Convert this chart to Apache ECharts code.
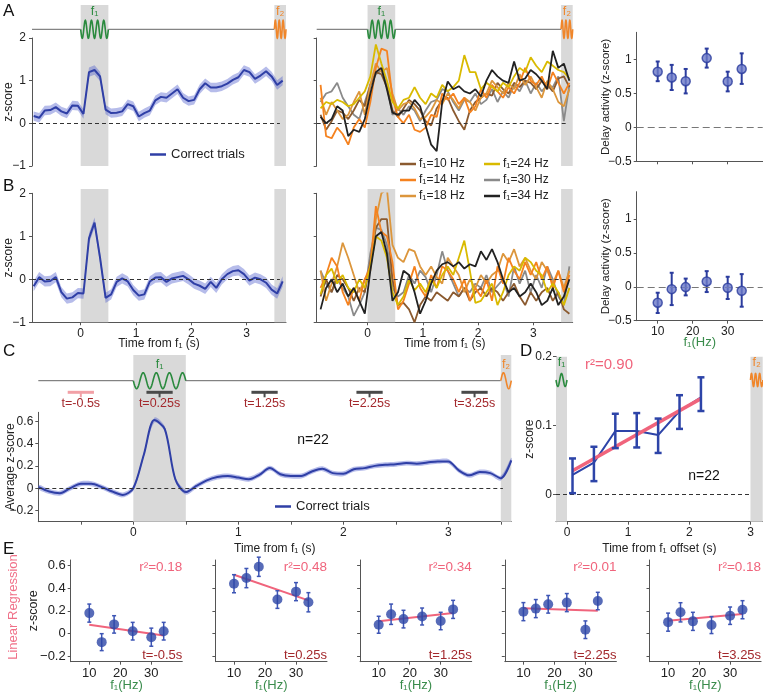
<!DOCTYPE html>
<html><head><meta charset="utf-8">
<script src="https://cdn.jsdelivr.net/npm/echarts@6/dist/echarts.min.js"></script>
<style>html,body{margin:0;padding:0;background:#fff}#c{width:763px;height:696px}</style>
</head><body><div id="c"></div>
<script>
// ---------------- DATA ----------------
const T = [-0.85,-0.75,-0.65,-0.55,-0.45,-0.35,-0.25,-0.15,-0.05,0.05,0.15,0.25,0.35,0.45,0.55,0.65,0.75,0.85,0.95,1.05,1.15,1.25,1.35,1.45,1.55,1.65,1.75,1.85,1.95,2.05,2.15,2.25,2.35,2.45,2.55,2.65,2.75,2.85,2.95,3.05,3.15,3.25,3.35,3.45,3.55,3.65];
const A_MEAN = [0.17,0.13,0.30,0.31,0.38,0.28,0.23,0.42,0.41,0.22,1.20,1.25,1.10,0.32,0.24,0.25,0.28,0.45,0.40,0.16,0.24,0.30,0.54,0.62,0.60,0.70,0.80,0.60,0.52,0.55,0.80,0.94,0.84,0.84,0.87,0.93,1.02,1.08,1.25,1.20,1.04,1.12,1.22,1.10,0.90,1.00];
const A_SEM = 0.11;
const B_MEAN = [-0.16,0.05,-0.05,-0.04,0.05,-0.30,-0.45,-0.42,-0.32,-0.33,0.95,1.32,0.50,-0.43,-0.35,-0.06,0.02,-0.05,-0.25,-0.38,-0.35,-0.05,0.04,0.05,-0.06,0.02,0.05,0.08,0.00,-0.10,-0.15,-0.22,-0.06,-0.20,0.00,0.12,0.19,0.21,0.12,-0.03,0.04,0.00,-0.08,-0.24,-0.33,-0.05];
const B_SEM = 0.12;
const A_F10 = [0.2,-0.15,0.05,0.3,0.25,0.1,0.3,0.55,0.4,0.9,1.2,1.15,0.85,0.3,0.15,0.35,0.55,0.45,0.3,0.05,-0.05,0.35,0.55,0.6,0.3,0.05,-0.15,0.3,0.5,0.6,0.7,0.65,0.95,0.8,0.7,0.95,0.85,1.0,0.95,0.8,1.0,0.9,0.75,1.05,1.1,0.85];
const A_F14 = [0.9,-0.3,-0.35,-0.1,-0.25,-0.5,-0.1,0.1,-0.1,0.5,1.3,1.75,1.7,0.6,0.15,0.0,0.2,-0.15,-0.2,-0.1,0.2,0.15,0.7,0.55,0.7,0.45,0.6,0.25,0.4,0.8,0.6,0.9,0.75,0.6,0.85,0.7,0.95,1.3,1.0,0.9,1.1,0.8,1.2,0.95,0.7,0.95];
const A_F18 = [0.6,0.2,0.5,0.3,0.1,0.2,0.5,0.75,0.2,0.9,1.4,1.2,1.3,0.7,0.3,0.45,0.5,0.35,0.1,0.15,0.3,0.55,0.45,0.7,0.55,0.35,0.6,0.5,0.3,0.6,0.7,1.0,0.85,0.7,0.95,0.8,1.15,0.9,1.1,0.85,0.6,1.0,0.8,0.5,0.4,0.8];
const A_F24 = [0.35,0.5,0.45,0.55,0.5,0.4,0.45,0.6,0.75,1.1,1.85,1.4,1.0,0.5,0.35,0.55,0.6,0.85,0.6,0.45,0.7,0.6,0.9,0.75,0.85,1.0,1.6,1.2,1.2,0.8,0.95,0.85,0.75,0.95,0.85,1.1,1.3,1.2,1.55,1.35,1.2,1.45,1.35,1.25,1.2,1.05];
const A_F30 = [0.5,0.7,0.75,0.95,0.6,0.4,0.2,0.1,0.5,0.9,1.15,1.25,0.9,0.2,0.35,0.2,0.4,0.3,0.05,0.3,0.5,0.55,0.8,0.75,0.5,0.3,0.55,0.5,0.7,0.45,0.55,0.8,0.5,0.75,0.6,0.9,0.75,1.0,0.7,0.95,0.75,0.9,0.85,1.1,0.05,0.9];
const A_F34 = [0.15,0.0,0.1,0.4,0.3,-0.3,-0.15,-0.2,0.1,0.7,1.2,1.3,0.8,0.25,0.2,0.3,0.3,0.55,0.4,-0.05,-0.5,-0.65,0.5,0.98,0.8,0.87,0.75,0.7,0.8,0.63,1.0,1.25,1.1,1.0,0.95,1.45,1.0,1.05,1.25,1.15,1.0,0.8,1.7,1.3,1.4,1.0];
const B_F10 = [-0.4,0.0,-0.3,0.1,0.0,-0.2,-0.5,-0.2,-0.3,0.4,1.2,1.4,1.4,0.0,-0.6,-0.55,-0.7,-1.0,-0.6,-0.4,-0.5,-0.3,-0.4,-0.5,-0.3,-0.4,-0.2,-0.5,-0.3,-0.2,-0.4,-0.2,-0.3,-0.5,-0.3,-0.1,-0.4,-0.6,-0.3,-0.5,-0.3,-0.2,-0.5,-0.3,-0.7,-0.8];
const B_F14 = [-0.2,0.1,0.5,0.3,-0.3,-0.6,-0.2,-0.5,0.0,0.3,1.7,1.1,1.0,0.4,-0.7,-0.5,-0.1,0.3,-0.2,-0.4,0.1,-0.2,0.3,0.2,0.0,-0.3,0.0,-0.5,-0.2,-0.4,0.0,-0.5,0.3,-0.1,0.5,0.2,0.0,0.4,0.1,0.4,0.0,0.3,-0.2,0.2,-0.3,0.1];
const B_F18 = [0.2,-0.5,-0.1,0.3,0.85,0.5,0.1,-0.3,0.0,0.2,1.4,2.0,2.1,0.8,0.5,0.4,0.7,0.65,0.3,0.1,0.3,0.05,-0.1,0.5,0.3,0.1,-0.3,0.0,-0.2,0.1,-0.1,0.1,0.2,0.6,0.4,0.7,0.3,0.5,0.2,0.0,0.4,0.2,-0.1,0.2,-0.2,0.2];
const B_F24 = [-0.35,0.1,0.25,-0.1,0.1,-0.2,-0.3,0.0,-0.2,0.3,1.0,0.9,0.5,-0.3,-0.6,-0.4,0.0,-0.25,-0.1,-0.3,0.0,-0.2,0.1,0.3,0.1,0.5,0.9,0.2,-0.55,-0.5,-0.3,-0.1,-0.6,-0.3,0.1,0.3,0.2,0.5,0.4,0.2,0.1,-0.3,-0.1,-0.3,-0.6,-0.2];
const B_F30 = [0.2,-0.1,-0.3,0.0,-0.2,-0.4,-0.85,-0.6,-0.3,0.6,1.2,1.15,0.8,-0.2,-0.4,-0.3,0.1,-0.1,0.2,0.05,-0.3,0.1,0.65,0.2,-0.1,-0.4,-0.2,-0.3,-0.1,-0.2,0.1,-0.3,-0.15,0.0,-0.4,0.3,-0.1,0.2,-0.3,0.1,-0.2,0.3,0.0,-0.4,-0.6,0.3];
const B_F34 = [-0.7,-0.2,0.0,-0.3,-0.1,-0.4,-0.2,-0.5,-0.8,0.2,1.0,1.1,0.6,-0.5,-0.3,0.2,0.1,-0.3,-0.8,-0.5,-0.1,0.2,0.35,0.4,0.3,0.4,0.25,0.35,0.3,0.65,0.45,0.7,0.4,0.0,-0.3,-0.2,-0.4,-0.3,-0.1,-0.3,-0.6,-0.5,-0.2,-0.6,-0.4,0.0];
const FREQ_NAMES = ['f₁=10 Hz','f₁=14 Hz','f₁=18 Hz','f₁=24 Hz','f₁=30 Hz','f₁=34 Hz'];
const FREQS = [10,14,18,24,30,34];
const A_DELAY = [0.82,0.735,0.68,1.02,0.675,0.86];
const A_DELAY_LO = [0.68,0.55,0.50,0.88,0.53,0.64];
const A_DELAY_HI = [0.97,0.92,0.86,1.16,0.82,1.09];
const B_DELAY = [-0.235,-0.035,-0.005,0.078,-0.015,-0.06];
const B_DELAY_LO = [-0.387,-0.27,-0.127,-0.078,-0.18,-0.294];
const B_DELAY_HI = [-0.088,0.206,0.12,0.23,0.147,0.186];
const TC = [-0.9,-0.8,-0.7,-0.6,-0.5,-0.4,-0.3,-0.2,-0.1,0.0,0.1,0.2,0.3,0.4,0.5,0.6,0.7,0.8,0.9,1.0,1.1,1.2,1.3,1.4,1.5,1.6,1.7,1.8,1.9,2.0,2.1,2.2,2.3,2.4,2.5,2.6,2.7,2.8,2.9,3.0,3.1,3.2,3.3,3.4,3.5,3.6];
const C_MEAN = [0.01,-0.03,-0.045,0.0,0.04,0.04,0.01,-0.03,-0.06,0.0,0.30,0.61,0.53,0.08,-0.035,0.02,0.07,0.10,0.11,0.095,0.08,0.12,0.18,0.125,0.11,0.11,0.15,0.175,0.135,0.13,0.17,0.18,0.20,0.21,0.215,0.225,0.22,0.23,0.24,0.24,0.16,0.115,0.145,0.135,0.09,0.25];
const C_SEM = 0.022;
const WIN_T = [-0.5,0.25,1.25,2.25,3.25];
const WIN_LABELS = ['t=-0.5s','t=0.25s','t=1.25s','t=2.25s','t=3.25s'];
const WIN_W = 0.25;
const F1 = [0,0.5], F2 = [3.5,3.72];
const D_T = [0.09,0.44,0.79,1.14,1.49,1.84,2.19];
const D_Z = [0.028,0.046,0.092,0.092,0.086,0.121,0.141];
const D_LO = [0.0015,0.019,0.067,0.068,0.060,0.095,0.121];
const D_HI = [0.052,0.069,0.117,0.118,0.110,0.144,0.170];
const D_FIT_X = [0.09,2.19], D_FIT_Y = [0.034,0.139];
const D_BANDS = [[-0.3,0],[3,3.3]];
const E_Z = [
  [0.18,-0.077,0.08,0.02,-0.033,0.02],
  [0.44,0.49,0.59,0.30,0.37,0.276],
  [0.077,0.17,0.127,0.15,0.11,0.213],
  [0.193,0.22,0.258,0.273,0.033,0.287],
  [0.10,0.187,0.107,0.074,0.157,0.21]];
const E_ERR = [
  [0.08,0.075,0.077,0.078,0.08,0.078],
  [0.08,0.085,0.085,0.078,0.08,0.085],
  [0.075,0.09,0.078,0.075,0.077,0.08],
  [0.08,0.08,0.078,0.08,0.078,0.077],
  [0.08,0.085,0.08,0.075,0.077,0.08]];
const E_FIT_X = [10,34];
const E_FIT_Y = [[0.077,-0.018],[0.52,0.293],[0.107,0.18],[0.222,0.2],[0.113,0.172]];
const E_R2 = ['0.18','0.48','0.34','0.01','0.18'];

// ---------------- STYLE ----------------
const FONT = "'Liberation Sans', Arial, Helvetica, sans-serif";
const GREEN = '#2a8a3e', GREEN2 = '#3a8c4c', ORANGE = '#f0862a', PINK = '#f0647c', DARKRED = '#a3282c';
const BLUE = '#2f3fa6', BAND = 'rgba(80,95,205,0.42)';
const FCOL = ['#8b5a2f','#f5821f','#dc963c','#d9ba00','#8a8a8a','#222222'];

const grids=[],xAxes=[],yAxes=[],series=[],titles=[];
const zip=(a,b)=>a.map((x,i)=>[x,b[i]]);
function fmt(v){return String(+(+v).toFixed(3)).replace('-','−');}
function axis(min,max,o){o=o||{};
  const a={type:'value',min:min,max:max,show:o.show!==false,splitLine:{show:false},nameMoveOverlap:false,
    axisLine:{show:o.line!==false,onZero:false,lineStyle:{color:'#555',width:1}},
    axisTick:{show:!!o.ticks,length:3,lineStyle:{color:'#555',width:1},customValues:o.ticks},
    axisLabel:{show:!!o.labels,customValues:o.labels,color:'#222',fontSize:o.fs||12,fontFamily:FONT,margin:o.margin==null?4:o.margin,formatter:fmt}};
  if(o.name){a.name=o.name;a.nameLocation='middle';a.nameGap=o.gap;if(o.rot)a.nameRotate=o.rot;
    a.nameTextStyle={fontSize:o.nfs||12,color:o.ncolor||'#222',fontFamily:FONT};}
  return a;}
function addGrid(l,t,w,h,xa,ya){grids.push({left:l,top:t,width:w,height:h,containLabel:false,outerBoundsMode:'none'});const g=grids.length-1;
  xa.gridIndex=g;ya.gridIndex=g;xAxes.push(xa);yAxes.push(ya);return g;}
function hidden(min,max){return {type:'value',min:min,max:max,show:false};}

function stimOverlay(l,t,w,h,xmin,xmax,events,cfg){
  const g=addGrid(l,t,w,h,hidden(xmin,xmax),hidden(0,1));
  series.push({type:'custom',xAxisIndex:g,yAxisIndex:g,z:1,silent:true,clip:false,encode:{x:[0,1]},data:events,
    renderItem:function(p,api){
      const cs=p.coordSys, s=api.value(0), e=api.value(1), k=api.value(2);
      const x0=Math.max(api.coord([s,0])[0],cs.x), x1=Math.min(api.coord([e,0])[0],cs.x+cs.width);
      const ch=[{type:'rect',shape:{x:x0,y:cs.y,width:x1-x0,height:cs.height},style:{fill:'#d9d9d9'}}];
      if(cfg.trace){
        const yc=cs.y+cfg.traceY, col=k===0?GREEN:ORANGE, cyc=k===0?cfg.c1:cfg.c2, pts=[], N=120;
        for(let i=0;i<=N;i++)pts.push([x0+(x1-x0)*i/N, yc+cfg.amp*Math.sin(2*Math.PI*cyc*i/N)*(k===0?1:-1)]);
        ch.push({type:'polyline',shape:{points:pts},style:{stroke:col,lineWidth:1.6,fill:null}});
        ch.push({type:'text',x:(x0+x1)/2,y:cs.y+cfg.labelY,style:{text:k===0?'f₁':'f₂',fill:col,fontSize:12.5,fontFamily:FONT,align:'center',verticalAlign:'middle'}});
        if(cfg.line&&k===0){
          const xf2=api.coord([F2[0],0])[0];
          ch.push({type:'line',shape:{x1:cs.x,y1:yc,x2:x0,y2:yc},style:{stroke:'#666',lineWidth:1}});
          ch.push({type:'line',shape:{x1:x1,y1:yc,x2:xf2,y2:yc},style:{stroke:'#666',lineWidth:1}});
        }
      }
      return {type:'group',children:ch};
    }});
  return g;
}
function bandSeries(g,ts,m,sem,smooth){
  return {type:'custom',xAxisIndex:g,yAxisIndex:g,z:2,silent:true,clip:true,encode:{x:0,y:1},data:zip(ts,m),
    renderItem:function(p,api){ if(p.dataIndex!==0) return;
      const up=[],dn=[]; ts.forEach((t,i)=>{up.push(api.coord([t,m[i]+sem]));dn.push(api.coord([t,m[i]-sem]));});
      return {type:'polygon',shape:{points:up.concat(dn.reverse()),smooth:smooth||0},style:{fill:BAND}}; }};
}
function errBars(g,xs,lo,hi,cfg){
  return {type:'custom',xAxisIndex:g,yAxisIndex:g,z:cfg.z||4,silent:true,encode:{x:0,y:[1,2]},data:xs.map((x,i)=>[x,lo[i],hi[i]]),
    renderItem:function(p,api){const a=api.coord([api.value(0),api.value(1)]),b=api.coord([api.value(0),api.value(2)]),w=cfg.cap/2;
      const st={stroke:cfg.color,lineWidth:cfg.lw};
      return {type:'group',children:[
        {type:'line',shape:{x1:a[0],y1:a[1],x2:b[0],y2:b[1]},style:st},
        {type:'line',shape:{x1:a[0]-w,y1:a[1],x2:a[0]+w,y2:a[1]},style:st},
        {type:'line',shape:{x1:b[0]-w,y1:b[1],x2:b[0]+w,y2:b[1]},style:st}]};}};
}
function dash(x0,x1){return {silent:true,symbol:'none',label:{show:false},lineStyle:{type:[4,3],color:'#333',width:1},data:[[{coord:[x0,0]},{coord:[x1,0]}]]};}
function longDash(){return {silent:true,symbol:'none',label:{show:false},lineStyle:{type:[7,4],color:'#777',width:1.2},data:[{yAxis:0}]};}

// ---------------- PANEL A / B : left ----------------
const STIM=[[F1[0],F1[1],0],[F2[0],F2[1],1]];
const stimA={trace:true,traceY:24.3,amp:9,c1:4.5,c2:3,labelY:7,line:true};
stimOverlay(32,5,254,161,-0.88,3.71,STIM,stimA);
const gA=addGrid(32,38,254,128,axis(-0.88,3.71,{line:false}),
  axis(-1,2,{ticks:[-1,0,1,2],labels:[-1,0,1,2],margin:6,name:'z-score',gap:17,rot:90}));
series.push(bandSeries(gA,T,A_MEAN,A_SEM));
series.push({type:'line',name:'Correct trials',xAxisIndex:gA,yAxisIndex:gA,data:zip(T,A_MEAN),showSymbol:false,
  lineStyle:{color:BLUE,width:2},itemStyle:{color:BLUE},z:3,markLine:dash(-0.88,3.6)});

stimOverlay(32,189,254,133.3,-0.88,3.71,STIM,{trace:false});
const gB=addGrid(32,193.3,254,129,axis(-0.88,3.71,{ticks:[0,1,2,3],labels:[0,1,2,3],margin:5,name:'Time from f₁ (s)',gap:15}),
  axis(-1,2,{ticks:[-1,0,1,2],labels:[-1,0,1,2],margin:6,name:'z-score',gap:17,rot:90}));
series.push(bandSeries(gB,T,B_MEAN,B_SEM));
series.push({type:'line',name:'Correct (B)',xAxisIndex:gB,yAxisIndex:gB,data:zip(T,B_MEAN),showSymbol:false,
  lineStyle:{color:BLUE,width:2},itemStyle:{color:BLUE},z:3,markLine:dash(-0.88,3.6)});

// ---------------- PANEL A / B : middle ----------------
stimOverlay(316.7,5,256,161,-0.92,3.71,STIM,stimA);
const gAm=addGrid(316.7,38,256,128,axis(-0.92,3.71,{line:false}),axis(-1,2,{ticks:[-1,0,1,2]}));
stimOverlay(316.7,189,256,133.3,-0.92,3.71,STIM,{trace:false});
const gBm=addGrid(316.7,193.3,256,129,axis(-0.92,3.71,{ticks:[0,1,2,3],labels:[0,1,2,3],margin:5,name:'Time from f₁ (s)',gap:15}),
  axis(-1,2,{ticks:[-1,0,1,2]}));
const AM=[A_F10,A_F14,A_F18,A_F24,A_F30,A_F34], BM=[B_F10,B_F14,B_F18,B_F24,B_F30,B_F34];
const ORDER=[4,0,2,1,3,5];
[[gAm,AM],[gBm,BM]].forEach(([g,arr])=>{
  ORDER.forEach((k,j)=>{
    const s={type:'line',name:FREQ_NAMES[k],xAxisIndex:g,yAxisIndex:g,data:zip(T,arr[k]),showSymbol:false,
      lineStyle:{color:FCOL[k],width:1.8},itemStyle:{color:FCOL[k]},z:3};
    if(j===0)s.markLine=dash(-0.92,3.6);
    series.push(s);
  });
});

// ---------------- PANEL A / B : right ----------------
const gAr=addGrid(636.7,32.3,126,129,axis(4,40,{ticks:[10,20,30]}),
  axis(-0.5,1.4,{ticks:[-0.5,0,0.5,1],labels:[-0.5,0,0.5,1],margin:5,name:'Delay activity (z-score)',gap:25,rot:90,nfs:11.5}));
const gBr=addGrid(636.7,191.7,126,129,axis(4,40,{ticks:[10,20,30],labels:[10,20,30],margin:5,name:'f₁(Hz)',gap:15,ncolor:GREEN2,nfs:13}),
  axis(-0.5,1.4,{ticks:[-0.5,0,0.5,1],labels:[-0.5,0,0.5,1],margin:5,name:'Delay activity (z-score)',gap:25,rot:90,nfs:11.5}));
[[gAr,A_DELAY,A_DELAY_LO,A_DELAY_HI],[gBr,B_DELAY,B_DELAY_LO,B_DELAY_HI]].forEach(([g,m,lo,hi])=>{
  series.push(errBars(g,FREQS,lo,hi,{color:'#2b3c9e',lw:2,cap:4}));
  series.push({type:'scatter',xAxisIndex:g,yAxisIndex:g,data:zip(FREQS,m),symbolSize:9,z:5,
    itemStyle:{color:'#6b79c8',borderColor:'#2b3c9e',borderWidth:1.5},markLine:longDash()});
});

// ---------------- PANEL C ----------------
const gCo=stimOverlay(38.3,355,473,166.7,-0.905,3.6,STIM,{trace:true,traceY:25.7,amp:8,c1:4,c2:1,labelY:10,line:true});
series.push({type:'custom',xAxisIndex:gCo,yAxisIndex:gCo,z:2,silent:true,clip:false,encode:{x:0},data:WIN_T.map((t,i)=>[t,i]),
  renderItem:function(p,api){const t=api.value(0),cs=p.coordSys;
    const xa=api.coord([t-WIN_W/2,0])[0],xb=api.coord([t+WIN_W/2,0])[0],xc=api.coord([t,0])[0],y=cs.y+37.3;
    const col=p.dataIndex===0?'#f2a0a6':'#4a4a4a';
    return {type:'group',children:[
      {type:'line',shape:{x1:xa,y1:y,x2:xb,y2:y},style:{stroke:col,lineWidth:3}},
      {type:'line',shape:{x1:xc,y1:y,x2:xc,y2:y+5},style:{stroke:col,lineWidth:2}},
      {type:'text',x:xc,y:y+11,style:{text:WIN_LABELS[p.dataIndex],fill:DARKRED,fontSize:12.5,fontFamily:FONT,align:'center',verticalAlign:'middle'}}]};}});
const gC=addGrid(38.3,412.3,473,109.4,
  axis(-0.905,3.6,{ticks:[-0.5,0,0.5,1,1.5,2,2.5,3,3.5],labels:[0,1,2,3],margin:5,name:'Time from f₁ (s)',gap:21}),
  axis(-0.3,0.68,{ticks:[-0.2,0,0.2,0.4,0.6],labels:[-0.2,0,0.2,0.4,0.6],margin:5,name:'Average z-score',gap:22,rot:90}));
series.push(bandSeries(gC,TC,C_MEAN,C_SEM,0.3));
series.push({type:'line',name:'Correct trials',xAxisIndex:gC,yAxisIndex:gC,data:zip(TC,C_MEAN),showSymbol:false,smooth:0.3,
  lineStyle:{color:BLUE,width:2},itemStyle:{color:BLUE},z:3,markLine:dash(-0.905,3.52)});

// ---------------- PANEL D ----------------
stimOverlay(556,356.7,206.7,165,-0.18,3.2,D_BANDS.map((b,i)=>[b[0],b[1],i]),{trace:true,traceY:23.3,amp:6.5,c1:1.5,c2:3,labelY:5.5,line:false});
const gD=addGrid(556,356.7,206.7,165,
  axis(-0.18,3.2,{ticks:[0,1,2,3],labels:[0,1,2,3],margin:5,name:'Time from f₁ offset (s)',gap:21}),
  axis(-0.04,0.2,{ticks:[0,0.1,0.2],labels:[0,0.1,0.2],margin:4,name:'z-score',gap:20,rot:90}));
series.push({type:'line',xAxisIndex:gD,yAxisIndex:gD,data:zip(D_T,D_Z),showSymbol:false,lineStyle:{color:'#2d44a8',width:2},z:3,
  markLine:dash(-0.18,3.0)});
series.push({type:'line',xAxisIndex:gD,yAxisIndex:gD,data:zip(D_FIT_X,D_FIT_Y),showSymbol:false,lineStyle:{color:PINK,width:3.5},z:4});
series.push(errBars(gD,D_T,D_LO,D_HI,{color:'#2d44a8',lw:2.5,cap:7,z:5}));

// ---------------- PANEL E ----------------
const E_TICKS=[-0.2,0,0.2,0.4,0.6];
for(let i=0;i<5;i++){
  const l=70.7+144.7*i;
  const g=addGrid(l,560,111.6,101.7,
    axis(4,40,{ticks:[10,20,30],labels:[10,20,30],fs:13,margin:5,name:'f₁(Hz)',gap:17,ncolor:GREEN2,nfs:13}),
    axis(-0.25,0.65,i===0?{ticks:E_TICKS,labels:E_TICKS,fs:13,margin:5,name:'z-score',gap:31,rot:90,nfs:12.5}:{ticks:E_TICKS}));
  series.push({type:'line',xAxisIndex:g,yAxisIndex:g,data:zip(E_FIT_X,E_FIT_Y[i]),showSymbol:false,lineStyle:{color:PINK,width:2},z:3});
  series.push(errBars(g,FREQS,E_Z[i].map((v,j)=>v-E_ERR[i][j]),E_Z[i].map((v,j)=>v+E_ERR[i][j]),{color:'#3d55b5',lw:1.5,cap:4}));
  series.push({type:'scatter',xAxisIndex:g,yAxisIndex:g,data:zip(FREQS,E_Z[i]),symbolSize:10,z:5,itemStyle:{color:'#2d46a6'}});
  titles.push({text:'r²='+E_R2[i],left:l+111.6,top:560,textAlign:'right',padding:0,textStyle:{fontSize:13.5,fontWeight:'normal',color:PINK,fontFamily:FONT}});
  titles.push({text:WIN_LABELS[i],left:l+111.6,top:649,textAlign:'right',padding:0,textStyle:{fontSize:13,fontWeight:'normal',color:DARKRED,fontFamily:FONT}});
}

// ---------------- TEXT ----------------
const lt=(t,l,tp)=>({text:t,left:l,top:tp,padding:0,textStyle:{fontSize:17,fontWeight:'normal',color:'#111',fontFamily:FONT}});
titles.push(lt('A',3,3),lt('B',3,178),lt('C',3,343),lt('D',520,343),lt('E',3,541));
titles.push({text:'n=22',left:313,top:433,textAlign:'center',padding:0,textStyle:{fontSize:14,fontWeight:'normal',color:'#111',fontFamily:FONT}});
titles.push({text:'n=22',left:704,top:469,textAlign:'center',padding:0,textStyle:{fontSize:14,fontWeight:'normal',color:'#111',fontFamily:FONT}});
titles.push({text:'r²=0.90',left:609,top:357,textAlign:'center',padding:0,textStyle:{fontSize:15,fontWeight:'normal',color:PINK,fontFamily:FONT}});

const legBase={icon:'rect',itemWidth:16,itemHeight:2.5,padding:0,selectedMode:false,
  textStyle:{fontSize:12,color:'#222',fontFamily:FONT,padding:[0,0,0,-2]}};
const legends=[
  Object.assign({},legBase,{data:['Correct trials'],left:150,top:148,textStyle:{fontSize:13,color:'#222',fontFamily:FONT}}),
  Object.assign({},legBase,{data:['Correct trials'],left:275,top:500,textStyle:{fontSize:13,color:'#222',fontFamily:FONT}}),
  Object.assign({},legBase,{data:FREQ_NAMES.slice(0,3),orient:'vertical',left:400,top:158,itemGap:4}),
  Object.assign({},legBase,{data:FREQ_NAMES.slice(3),orient:'vertical',left:484,top:158,itemGap:4})
];

const chart=echarts.init(document.getElementById('c'),null,{renderer:'canvas'});
chart.setOption({animation:false,backgroundColor:'#fff',title:titles,legend:legends,grid:grids,xAxis:xAxes,yAxis:yAxes,series:series,
  graphic:[{type:'text',x:13,y:607,rotation:Math.PI/2,style:{text:'Linear Regression',fill:'#f07088',fontSize:13,fontFamily:FONT,align:'center',verticalAlign:'middle'}}]});
</script></body></html>
